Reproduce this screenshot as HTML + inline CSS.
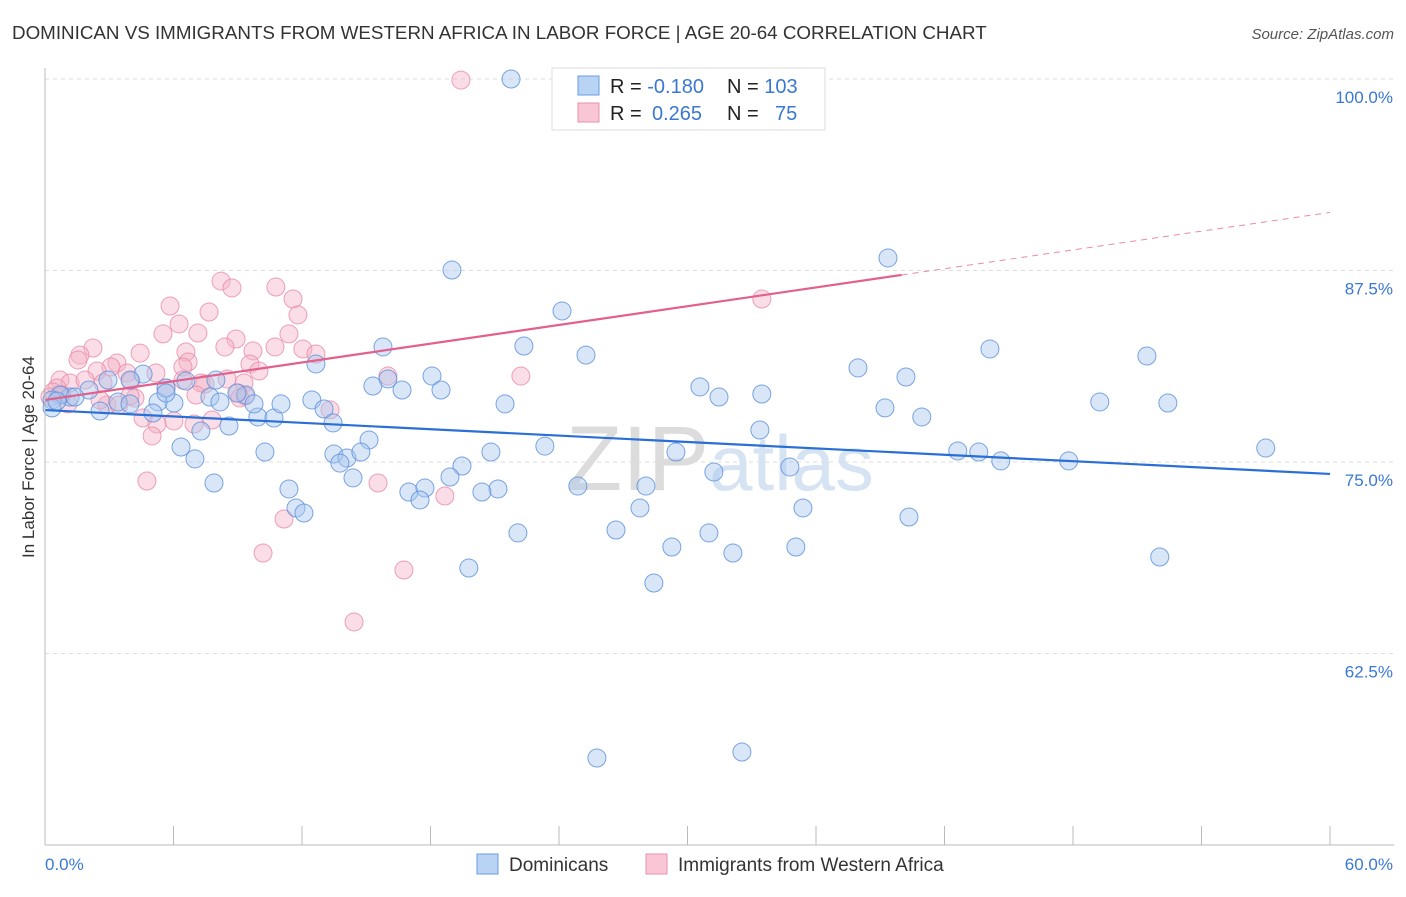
<!DOCTYPE html>
<html><head><meta charset="utf-8">
<style>
body{margin:0;background:#fff;font-family:"Liberation Sans",sans-serif;}
svg text{font-family:"Liberation Sans",sans-serif;}
</style></head>
<body>
<svg id="chart" width="1406" height="892" viewBox="0 0 1406 892" xmlns="http://www.w3.org/2000/svg">
<text x="12" y="39" font-size="18.8" fill="#333">DOMINICAN VS IMMIGRANTS FROM WESTERN AFRICA IN LABOR FORCE | AGE 20-64 CORRELATION CHART</text>
<text x="1394" y="39" font-size="15" fill="#555" text-anchor="end" font-style="italic">Source: ZipAtlas.com</text>
<g id="grid"></g>
<text x="720" y="490" font-size="92" fill="#e4e8ee" text-anchor="middle" font-family="Liberation Serif"><tspan fill="#dcdcdc">ZIP</tspan><tspan fill="#d6e3f3" font-family="Liberation Sans" font-size="78">atlas</tspan></text>
<g id="marks"></g>
<line x1="45" y1="68" x2="45" y2="845" stroke="#bbb"/>
<line x1="45" y1="845" x2="1394" y2="845" stroke="#bbb"/>
<g id="xticks"></g>
<text transform="translate(34,457) rotate(-90)" font-size="17" fill="#333" text-anchor="middle">In Labor Force | Age 20-64</text>
<text x="45" y="870" font-size="17" fill="#3a78d4">0.0%</text>
<text x="1393" y="870" font-size="17" fill="#3a78d4" text-anchor="end">60.0%</text>
<g>
<rect x="552" y="68" width="273" height="62" fill="#fff" stroke="#ddd"/>
<rect x="578" y="76" width="21" height="19" fill="#b9d3f5" stroke="#6b9be0"/>
<rect x="578" y="103" width="21" height="19" fill="#f9c6d5" stroke="#e890ab"/>
<text x="610" y="93" font-size="20" fill="#222">R = <tspan fill="#3a78d4">-0.180</tspan><tspan x="727">N = </tspan><tspan fill="#3a78d4">103</tspan></text>
<text x="610" y="120" font-size="20" fill="#222">R = <tspan fill="#3a78d4" x="652">0.265</tspan><tspan x="727">N = </tspan><tspan fill="#3a78d4" x="775">75</tspan></text>
</g>
<g>
<rect x="477" y="854" width="21" height="20" fill="#b9d3f5" stroke="#6b9be0"/>
<text x="509" y="871" font-size="19" fill="#333">Dominicans</text>
<rect x="646" y="854" width="21" height="20" fill="#f9c6d5" stroke="#e890ab"/>
<text x="678" y="871" font-size="19" fill="#333">Immigrants from Western Africa</text>
</g>
</svg>
<script>
const yTicks=[100,87.5,75,62.5];
const yTickLabels=["100.0%","87.5%","75.0%","62.5%"];
const xTicks=[0,6,12,18,24,30,36,42,48,54,60];
const blueX=[21.76,19.0,39.36,24.14,22.36,15.78,25.26,44.12,51.45,12.65,37.96,40.20,18.07,16.01,15.31,16.67,18.49,30.58,31.47,33.47,21.48,39.22,40.94,49.25,52.43,33.38,15.13,13.49,23.34,20.82,29.46,42.62,43.60,44.63,47.80,57.00,14.10,14.75,13.77,19.47,34.78,31.23,18.91,14.38,24.88,28.06,16.99,17.74,21.15,20.40,17.51,11.39,27.78,35.39,40.34,11.72,12.09,22.08,26.66,31.0,29.27,35.06,32.12,52.05,19.79,28.43,25.77,32.54,7.89,10.27,6.35,7.00,7.28,8.59,9.38,8.96,9.94,10.69,11.02,9.76,12.46,13.03,13.45,6.02,5.28,5.04,4.58,6.58,3.97,2.94,2.57,3.41,3.97,2.05,1.17,0.70,0.33,0.33,0.56,1.40,5.65,7.70,8.17,5.65,7.98];
const blueY=[100.0,87.53,88.32,84.86,82.57,82.51,81.98,82.38,81.92,81.40,81.14,80.55,80.61,80.42,79.96,79.70,79.70,79.90,79.24,79.44,78.79,78.53,77.94,78.92,78.85,77.09,76.44,75.52,76.04,75.65,75.65,75.72,75.65,75.07,75.07,75.91,75.26,75.65,74.93,74.74,74.67,74.35,74.02,73.96,73.43,73.43,73.04,73.30,73.24,73.04,72.52,73.24,72.00,72.00,71.41,72.00,71.67,70.37,70.56,70.37,69.45,69.45,69.06,68.80,68.08,67.10,55.68,56.07,73.63,75.65,75.98,75.20,77.02,77.35,79.37,79.50,77.94,77.87,78.79,78.79,79.05,78.46,77.55,78.85,78.92,78.20,80.74,80.29,80.35,80.35,78.33,78.92,78.79,79.70,79.24,79.37,79.05,78.53,78.98,79.24,79.83,79.24,78.92,79.50,80.35];
const pinkX=[19.42,35.95,8.22,8.73,10.78,11.58,5.84,11.81,7.66,6.26,5.51,7.14,8.92,11.39,8.40,9.71,10.74,12.04,12.65,2.24,1.63,1.54,4.44,6.58,6.68,3.36,3.08,2.43,3.83,5.18,6.44,9.57,9.99,6.44,7.47,7.28,9.29,8.50,0.70,1.17,1.87,4.01,2.71,0.56,0.37,0.23,0.79,1.07,2.89,3.45,4.20,4.58,5.23,6.02,6.96,7.80,9.01,9.34,13.31,16.01,22.22,33.47,4.76,5.00,11.16,10.18,16.76,14.43,15.55,18.67,9.10,3.97,5.65,2.57,7.05];
const pinkY=[99.93,100.0,86.81,86.36,86.42,85.64,85.18,84.60,84.79,84.01,83.36,83.42,83.03,83.36,82.51,82.25,82.51,82.38,82.05,82.44,81.98,81.66,82.11,82.18,81.53,81.46,81.20,80.94,80.81,80.81,81.20,81.40,80.94,80.35,80.09,80.16,80.16,80.42,80.35,80.16,80.35,80.29,80.16,79.83,79.57,79.24,79.37,78.79,78.72,78.72,79.18,77.87,77.48,77.68,77.48,77.74,79.50,79.31,78.40,80.61,80.61,85.64,73.76,76.70,71.28,69.06,67.95,64.56,73.63,72.78,79.18,79.31,79.83,79.05,79.37];
const blueTrend=[78.39,74.22];   // value at x=0, x=60
const pinkTrend=[79.05,91.29];   // value at x=0, x=60
const pinkSolidEnd=[40];

const NS="http://www.w3.org/2000/svg";
const xs=v=>45+v/60*1285;
const ys=v=>79+(100-v)/12.5*191.5;
function mk(tag,attrs,parent){const e=document.createElementNS(NS,tag);for(const k in attrs)e.setAttribute(k,attrs[k]);parent.appendChild(e);return e;}
const grid=document.getElementById('grid'),marks=document.getElementById('marks'),xt=document.getElementById('xticks');
yTicks.forEach((t,i)=>{
  const l=mk('line',{x1:45,x2:1394,y1:ys(t),y2:ys(t),stroke:'#ddd','stroke-dasharray':'4,4'},grid);
  
  
  const tx=mk('text',{x:1393,y:ys(t)+24,'font-size':17,fill:'#3a78d4','text-anchor':'end'},grid);
  tx.textContent=yTickLabels[i];
  
  
});
xTicks.forEach(t=>{
  const l=mk('line',{x1:xs(t),x2:xs(t),y1:826,y2:845,stroke:'#bbb'},xt);
  
  
});
function dots(X,Y,fill,stroke,name){
  X.forEach((x,i)=>{
    const c=mk('circle',{cx:xs(x),cy:ys(Y[i]),r:9,fill:fill,'fill-opacity':0.45,stroke:stroke,'stroke-opacity':0.8,'stroke-width':1},marks);
    
    
  });
}
dots(pinkX,pinkY,'#f5b3c7','#e98aa8','point-western-africa');
dots(blueX,blueY,'#a8c7f0','#5a8edb','point-dominican');
const pAt=x=>pinkTrend[0]+(pinkTrend[1]-pinkTrend[0])*x/60;
const bl=mk('line',{x1:xs(0),y1:ys(blueTrend[0]),x2:xs(60),y2:ys(blueTrend[1]),stroke:'#2a6fd6','stroke-width':2.2},marks);


const pl=mk('line',{x1:xs(0),y1:ys(pAt(0)),x2:xs(pinkSolidEnd[0]),y2:ys(pAt(pinkSolidEnd[0])),stroke:'#e2608c','stroke-width':2.2},marks);


const pd=mk('line',{x1:xs(pinkSolidEnd[0]),y1:ys(pAt(pinkSolidEnd[0])),x2:xs(60),y2:ys(pAt(60)),stroke:'#e98aa8','stroke-width':1,'stroke-dasharray':'6,5'},marks);


</script>
</body></html>
